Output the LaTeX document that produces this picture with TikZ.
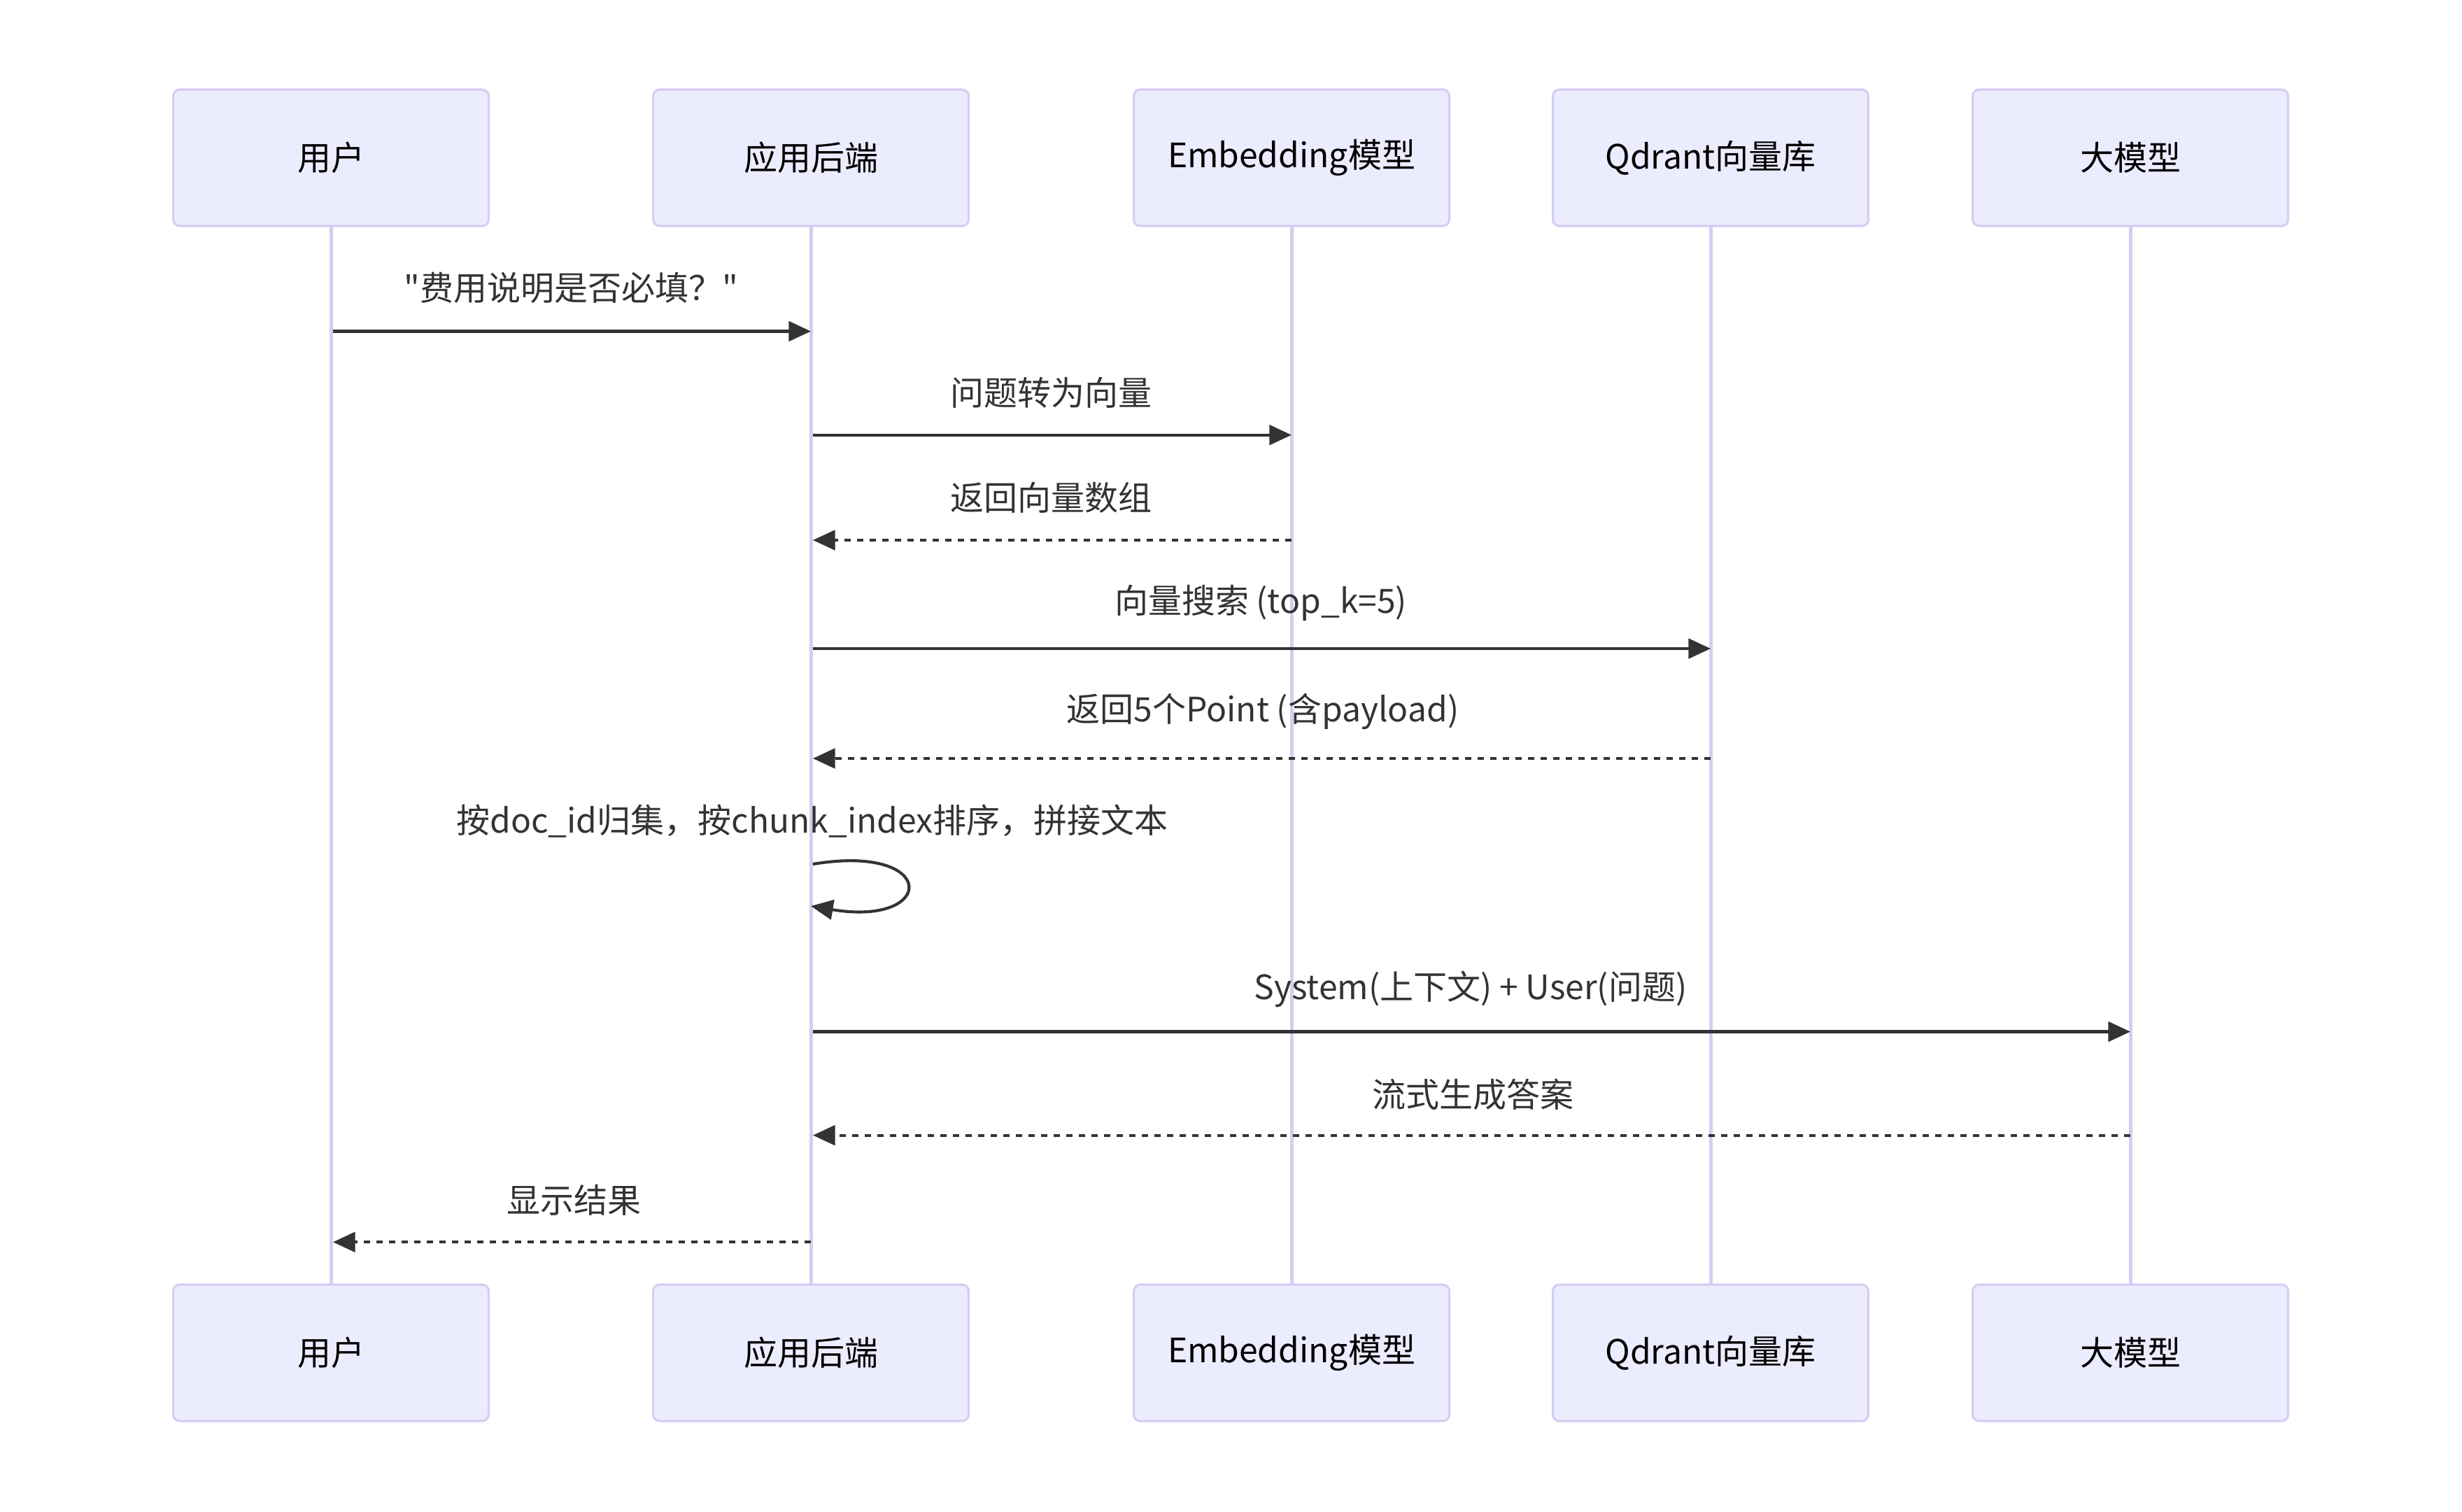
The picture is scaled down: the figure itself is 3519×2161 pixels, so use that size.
\documentclass[tikz,border=0pt]{standalone}
\usepackage{fontspec}
\setmainfont{Noto Sans CJK SC}[Ligatures=TeXOff]
\usetikzlibrary{arrows.meta}
\definecolor{actfill}{HTML}{ECECFF}
\definecolor{actline}{HTML}{D7CCF3}
\definecolor{sig}{HTML}{333333}
\begin{document}
\begin{tikzpicture}[x=0.24pt,y=-0.24pt,
  actor/.style={draw=actline, line width=0.75pt, fill=actfill, rounded corners=2.2pt,
    minimum width=108.2pt, minimum height=46.8pt, inner sep=0pt, text=black,
    font=\fontsize{11.52pt}{14pt}\selectfont},
  life/.style={draw=actline, line width=1.2pt},
  msg/.style={draw=sig, line width=1pt, -{Triangle[length=7.6pt,width=6.8pt]}},
  ret/.style={msg, dash pattern=on 2.16pt off 2.16pt},
  lbl/.style={text=sig, inner sep=0pt, font=\fontsize{11.52pt}{14pt}\selectfont}]
\useasboundingbox (0,0) rectangle (3519,2161);
% lifelines
\foreach \x/\n in {473/u,1159/b,1846/e,2445/q,3045/l}{
  \draw[life] (\x,323) -- (\x,1836);
}
% actors top
\node[actor] (uT) at (473,225.5) {用户};
\node[actor] (bT) at (1159,225.5) {应用后端};
\node[actor] (eT) at (1846,225.5) {Embedding模型};
\node[actor] (qT) at (2445,225.5) {Qdrant向量库};
\node[actor] (lT) at (3045,225.5) {大模型};
% actors bottom
\node[actor] (uB) at (473,1933.5) {用户};
\node[actor] (bB) at (1159,1933.5) {应用后端};
\node[actor] (eB) at (1846,1933.5) {Embedding模型};
\node[actor] (qB) at (2445,1933.5) {Qdrant向量库};
\node[actor] (lB) at (3045,1933.5) {大模型};
% message rows
\coordinate (m1) at (0,473.5);
\coordinate (m2) at (0,621.7);
\coordinate (m3) at (0,772);
\coordinate (m4) at (0,927);
\coordinate (m5) at (0,1084);
\coordinate (m6) at (0,1235);
\coordinate (m6e) at (0,1295);
\coordinate (m7) at (0,1474.5);
\coordinate (m8) at (0,1622.6);
\coordinate (m9) at (0,1775.2);
% labels
\node[lbl] (t1) at (816,411) {"费用说明是否必填？"};
\node[lbl] (t2) at (1502,561) {问题转为向量};
\node[lbl] (t3) at (1502,711) {返回向量数组};
\node[lbl] (t4) at (1802,862) {向量搜索 (top\_k=5)};
\node[lbl] (t5) at (1805,1017) {返回5个Point (含payload)};
\node[lbl] (t6) at (1161,1174) {按doc\_id归集，按chunk\_index排序，拼接文本};
\node[lbl] (t7) at (2102,1414) {System(上下文) + User(问题)};
\node[lbl] (t8) at (2105,1564) {流式生成答案};
\node[lbl] (t9) at (820,1715) {显示结果};
% messages
\draw[msg] ([xshift=0.7pt]uT |- m1) -- (bT |- m1);
\draw[msg] ([xshift=0.7pt]bT |- m2) -- (eT |- m2);
\draw[ret] (eT |- m3) -- ([xshift=0.7pt]bT |- m3);
\draw[msg] ([xshift=0.7pt]bT |- m4) -- (qT |- m4);
\draw[ret] (qT |- m5) -- ([xshift=0.7pt]bT |- m5);
\draw[msg] ([xshift=0.7pt]bT |- m6) .. controls +(180,-30) and +(180,30) .. (bT |- m6e);
\draw[msg] ([xshift=0.7pt]bT |- m7) -- (lT |- m7);
\draw[ret] (lT |- m8) -- ([xshift=0.7pt]bT |- m8);
\draw[ret] (bT |- m9) -- ([xshift=0.7pt]uT |- m9);
\end{tikzpicture}
\end{document}
